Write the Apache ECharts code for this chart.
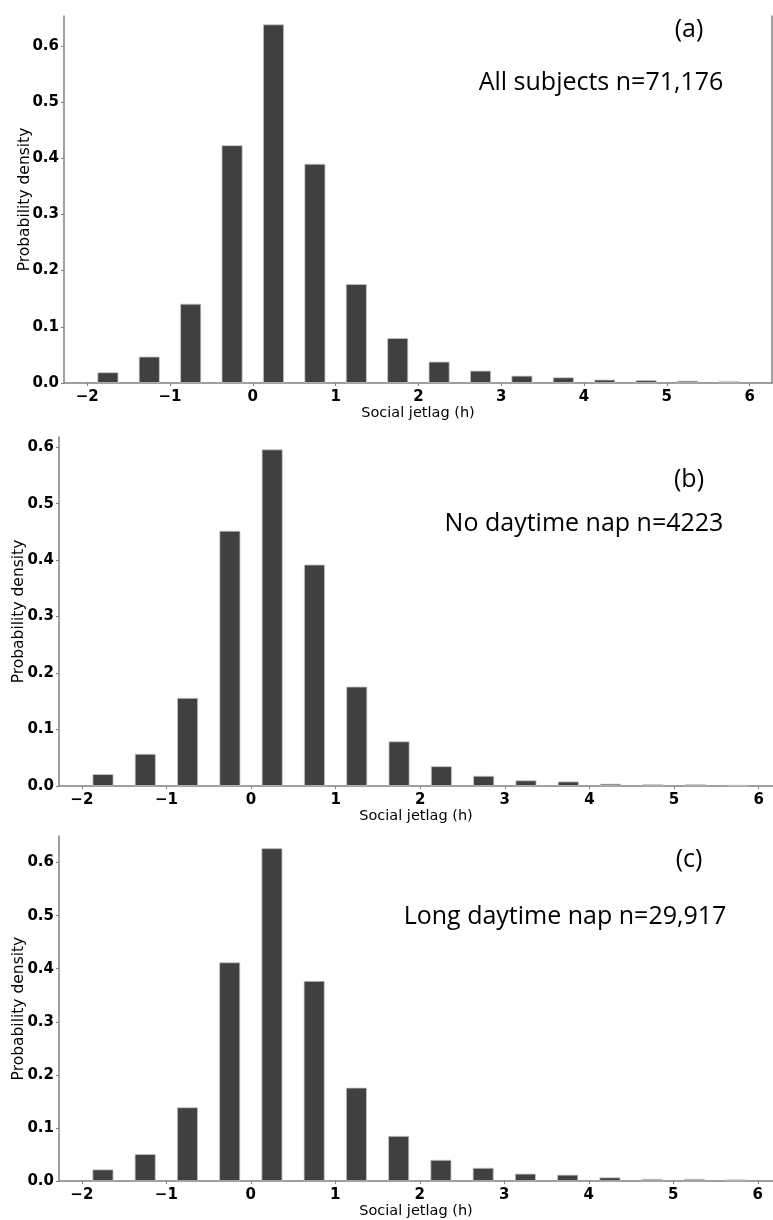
<!DOCTYPE html>
<html>
<head>
<meta charset="utf-8">
<script src="https://cdn.jsdelivr.net/npm/echarts@6/dist/echarts.min.js"></script>
<style>
  html, body { margin: 0; padding: 0; background: #fff; }
  #chart { width: 773px; height: 1220px; }
</style>
</head>
<body>
<div id="chart"></div>
<script>
// bin centres of the social jetlag histogram (h)
const binCenters = [-1.75, -1.25, -0.75, -0.25, 0.25, 0.75, 1.25, 1.75, 2.25, 2.75, 3.25, 3.75, 4.25, 4.75, 5.25, 5.75]
const allSubjects = [0.019, 0.047, 0.141, 0.423, 0.638, 0.390, 0.176, 0.080, 0.038, 0.022, 0.013, 0.010, 0.006, 0.005, 0.004, 0.003]
const noNap = [0.021, 0.057, 0.156, 0.452, 0.596, 0.392, 0.176, 0.079, 0.035, 0.018, 0.010, 0.008, 0.004, 0.003, 0.003, 0.002]
const longNap = [0.022, 0.051, 0.139, 0.412, 0.627, 0.377, 0.176, 0.085, 0.040, 0.025, 0.014, 0.012, 0.007, 0.004, 0.004, 0.003]
const xTicks = [-2, -1, 0, 1, 2, 3, 4, 5, 6]
const yTicks = [0, 0.1, 0.2, 0.3, 0.4, 0.5, 0.6]
const panelTags = ['(a)', '(b)', '(c)']
const panelNotes = ['All subjects n=71,176', 'No daytime nap n=4223', 'Long daytime nap n=29,917']

const axisColor = '#808080'
const barColor = '#404040'
const tickFont = { fontFamily: 'DejaVu Sans', fontWeight: 'bold', fontSize: 15, color: '#000' }
const noteFont = '"Open Sans", sans-serif'

const grids = [
  { left: 64, right: 1, top: 16, bottom: 837 },
  { left: 59, right: 0, top: 437, bottom: 434 },
  { left: 59, right: 0, top: 836, bottom: 35 }
]
const xRanges = [[-2.28, 6.27], [-2.27, 6.17], [-2.27, 6.18]]
const yMax = [0.653, 0.618, 0.65]
const series = [allSubjects, noNap, longNap]
const notePos = [[689, 30, 83], [689, 480, 524], [689, 860, 917]]
const noteX = [601, 584, 565]

const chart = echarts.init(document.getElementById('chart'))

const option = {
  animation: false,
  grid: grids,
  xAxis: grids.map((g, i) => ({
    type: 'value',
    gridIndex: i,
    min: xRanges[i][0],
    max: xRanges[i][1],
    name: 'Social jetlag (h)',
    nameLocation: 'middle',
    nameGap: 21,
    nameTextStyle: { fontFamily: 'DejaVu Sans', fontSize: 14.5, color: '#000' },
    splitLine: { show: false },
    axisLine: { show: true, onZero: false, lineStyle: { color: axisColor, width: 1.5 } },
    axisTick: { show: true, length: 3, customValues: xTicks, lineStyle: { color: axisColor } },
    axisLabel: Object.assign({ margin: 7, customValues: xTicks, formatter: v => String(v).replace('-', '\u2212') }, tickFont)
  })),
  yAxis: grids.map((g, i) => ({
    type: 'value',
    gridIndex: i,
    min: 0,
    max: yMax[i],
    name: 'Probability density',
    nameLocation: 'middle',
    nameGap: i === 0 ? 31 : 32,
    nameMoveOverlap: false,
    nameTextStyle: { fontFamily: 'DejaVu Sans', fontSize: 15.5, color: '#000' },
    splitLine: { show: false },
    axisLine: { show: true, onZero: false, lineStyle: { color: axisColor, width: 1.5 } },
    axisTick: { show: true, length: 3, customValues: yTicks, lineStyle: { color: axisColor } },
    axisLabel: Object.assign({ margin: 5, customValues: yTicks, formatter: v => v.toFixed(1) }, tickFont)
  })).concat([{
    // right spine of panel (a)
    type: 'value',
    gridIndex: 0,
    position: 'right',
    min: 0,
    max: yMax[0],
    splitLine: { show: false },
    axisTick: { show: false },
    axisLabel: { show: false },
    axisLine: { show: true, onZero: false, lineStyle: { color: axisColor, width: 1.5 } }
  }]),
  series: series.map((vals, i) => ({
    type: 'bar',
    xAxisIndex: i,
    yAxisIndex: i,
    barWidth: 21,
    itemStyle: { color: barColor, borderColor: '#c8c8c8', borderWidth: 0.8 },
    data: binCenters.map((x, k) => [x, vals[k]])
  })),
  graphic: panelTags.map((tag, i) => ({
    type: 'text',
    x: notePos[i][0],
    y: notePos[i][1],
    style: { text: tag, font: '25px ' + noteFont, fill: '#000', textAlign: 'center', textVerticalAlign: 'middle' }
  })).concat(panelNotes.map((note, i) => ({
    type: 'text',
    x: noteX[i],
    y: notePos[i][2],
    style: { text: note, font: '25px ' + noteFont, fill: '#000', textAlign: 'center', textVerticalAlign: 'middle' }
  })))
}

chart.setOption(option)
</script>
</body>
</html>
